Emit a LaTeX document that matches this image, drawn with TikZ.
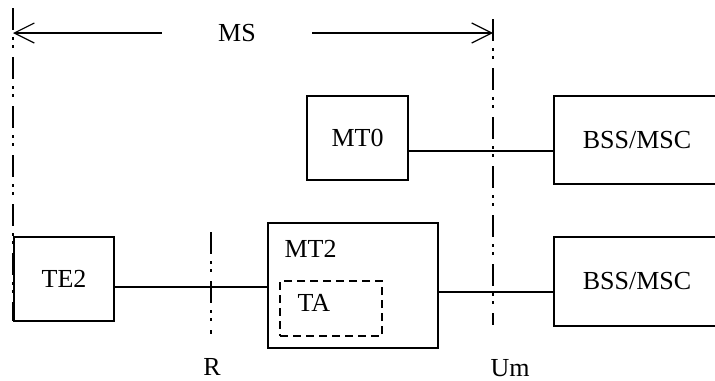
\documentclass[tikz,border=0pt]{standalone}
\usepackage{fontspec}
\setmainfont{Liberation Serif}
\usetikzlibrary{arrows.meta, positioning, calc}

\begin{document}
\begin{tikzpicture}[
  x=0.5pt, y=-0.5pt,
  unit/.style={draw, line width=0.8pt, inner sep=0pt, font=\fontsize{13}{15}\selectfont},
  sub/.style={draw, dash pattern=on 4pt off 2.5pt, line width=0.8pt, minimum width=51pt, minimum height=27.5pt},
  lbl/.style={inner sep=0pt, font=\fontsize{13}{15}\selectfont},
  link/.style={line width=0.8pt},
  arr/.style={-{Straight Barb[length=10pt,width=10pt]}, line width=0.6pt},
  iface/.style={line width=1.3pt, dash pattern=on 11pt off 3.5pt on 1.5pt off 2.5pt on 1.5pt off 4.5pt},
]
\clip (0,0) rectangle (715,380);
%% Reference points
\draw[iface, line width=1pt] (13,8) -- (13,321);
\draw[iface] (493,19) -- (493,325);
\draw[iface] (211,232) -- (211,334);
\node[lbl] (r) at (212,367) {R};
\node[lbl] (um) at (510,368) {Um};
%% MS span
\node[lbl, minimum width=75pt] (ms) at (237,33) {MS};
\coordinate (msl) at (13,33);
\coordinate (msr) at (493,33);
\draw[arr] (ms.west) -- (msl);
\draw[arr] (ms.east) -- (msr);
%% Upper row
\node[unit, minimum width=50.5pt, minimum height=42pt] (mt0) at (357.5,138) {MT0};
\node[unit, minimum width=83pt, minimum height=44pt] (bss1) at (637,140) {BSS/MSC};
\coordinate (p0) at ([yshift=-6.5pt]mt0.east);
\draw[link] (p0) -- (p0 -| bss1.west);
%% Lower row
\node[unit, minimum width=50pt, minimum height=42pt] (te2) at (64,279) {TE2};
\node[unit, minimum width=85pt, minimum height=62.5pt] (mt2) at (353,285.5) {};
\node[lbl, anchor=base west] at ([xshift=8.5pt, yshift=-17.5pt]mt2.north west) {MT2};
\node[sub] (ta) at (331,308.5) {};
\node[lbl, anchor=base west] at ([xshift=9pt, yshift=-15.5pt]ta.north west) {TA};
\node[unit, minimum width=83pt, minimum height=44.5pt] (bss2) at (637,281.5) {BSS/MSC};
\coordinate (p1) at ([yshift=-4pt]te2.east);
\draw[link] (p1) -- (p1 -| mt2.west);
\coordinate (p2) at ([yshift=-3.25pt]mt2.east);
\draw[link] (p2) -- (p2 -| bss2.west);
\end{tikzpicture}
\end{document}
